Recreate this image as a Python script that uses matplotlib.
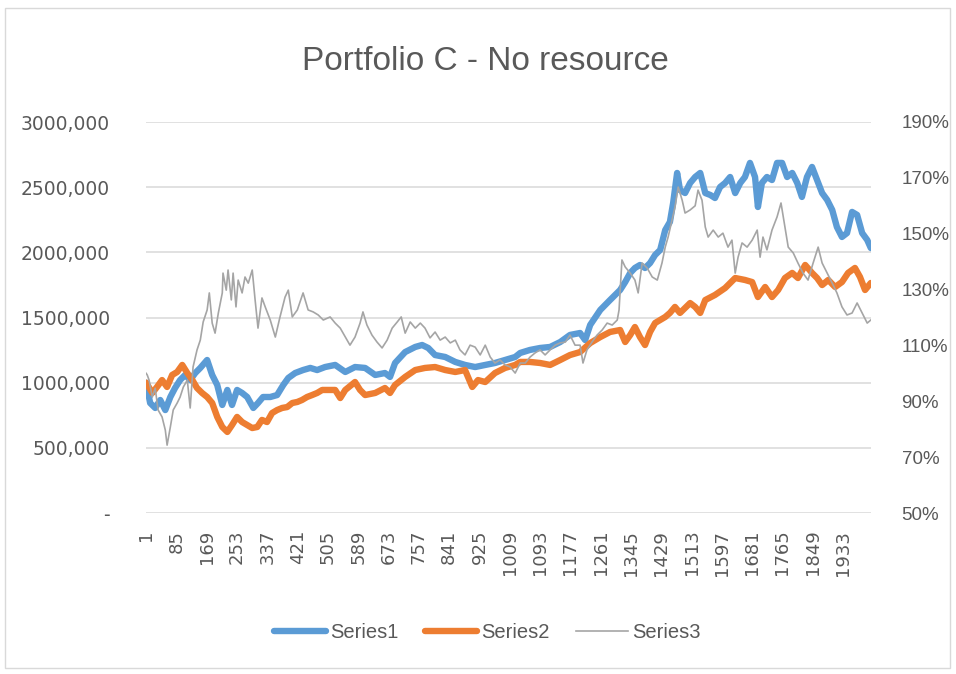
import matplotlib
matplotlib.use("Agg")
import matplotlib.pyplot as plt
from matplotlib.lines import Line2D
from matplotlib.patches import Rectangle

# --- data (day index, value) ---
n_days = 2010

s1_days = [1, 12, 26, 40, 54, 68, 81, 95, 109, 123, 137, 151, 170, 184, 198, 212, 226, 239, 253, 267,
           281, 298, 311, 325, 345, 364, 381, 395, 414, 436, 456, 475, 497, 525, 553, 580, 608, 636, 663, 677,
           691, 719, 747, 766, 783, 802, 830, 858, 885, 913, 941, 968, 996, 1024, 1038, 1065, 1093, 1121, 1149, 1176,
           1204, 1218, 1232, 1260, 1287, 1315, 1329, 1343, 1356, 1370, 1384, 1398, 1412, 1426, 1440, 1453, 1462, 1473, 1481, 1495,
           1509, 1523, 1537, 1551, 1565, 1578, 1592, 1606, 1620, 1634, 1648, 1661, 1675, 1689, 1697, 1708, 1722, 1736, 1750, 1764,
           1778, 1792, 1806, 1819, 1833, 1847, 1861, 1875, 1889, 1903, 1916, 1930, 1944, 1958, 1972, 1986, 2000, 2010]
s1_vals = [1000000, 844000, 806000, 867000, 790000, 890000, 959000, 1020000, 1059000, 1020000, 1074000, 1113000, 1174000, 1059000, 982000, 829000, 944000, 829000, 944000, 921000,
           890000, 806000, 844000, 890000, 890000, 905000, 982000, 1036000, 1074000, 1097000, 1113000, 1097000, 1120000, 1136000, 1082000, 1120000, 1113000, 1059000, 1074000, 1044000,
           1151000, 1235000, 1274000, 1289000, 1266000, 1212000, 1197000, 1159000, 1136000, 1120000, 1136000, 1151000, 1174000, 1197000, 1228000, 1251000, 1266000, 1274000, 1312000, 1366000,
           1381000, 1327000, 1443000, 1558000, 1634000, 1711000, 1772000, 1842000, 1880000, 1903000, 1880000, 1918000, 1980000, 2018000, 2171000, 2233000, 2379000, 2609000, 2478000, 2455000,
           2532000, 2578000, 2609000, 2455000, 2440000, 2417000, 2501000, 2532000, 2578000, 2455000, 2532000, 2578000, 2686000, 2578000, 2348000, 2532000, 2578000, 2555000, 2686000, 2686000,
           2578000, 2609000, 2532000, 2425000, 2578000, 2655000, 2555000, 2455000, 2402000, 2325000, 2194000, 2118000, 2148000, 2310000, 2287000, 2148000, 2095000, 2033000]

s2_days = [1, 18, 31, 45, 59, 73, 87, 101, 115, 129, 142, 156, 170, 184, 198, 212, 226, 239, 253, 267,
           281, 295, 309, 322, 336, 350, 364, 378, 392, 406, 420, 433, 447, 461, 475, 489, 503, 525, 539, 553,
           580, 594, 608, 636, 663, 677, 691, 719, 747, 774, 802, 830, 858, 885, 905, 921, 941, 968, 996, 1024,
           1038, 1065, 1093, 1121, 1149, 1176, 1204, 1232, 1260, 1287, 1315, 1329, 1343, 1356, 1370, 1384, 1398, 1412, 1426, 1440,
           1453, 1467, 1481, 1495, 1509, 1523, 1537, 1551, 1578, 1606, 1634, 1661, 1681, 1697, 1717, 1736, 1753, 1772, 1792, 1808,
           1828, 1847, 1861, 1875, 1892, 1911, 1930, 1947, 1966, 1980, 1994, 2010]
s2_vals = [1000000, 921000, 967000, 1020000, 967000, 1059000, 1082000, 1136000, 1074000, 1020000, 959000, 921000, 890000, 844000, 737000, 660000, 622000, 675000, 737000, 698000,
           675000, 652000, 660000, 714000, 698000, 767000, 790000, 806000, 813000, 844000, 852000, 867000, 890000, 905000, 921000, 944000, 944000, 944000, 882000, 944000,
           1005000, 944000, 905000, 921000, 959000, 921000, 982000, 1044000, 1097000, 1113000, 1120000, 1097000, 1082000, 1097000, 967000, 1020000, 1005000, 1074000, 1113000, 1136000,
           1159000, 1159000, 1151000, 1136000, 1174000, 1212000, 1235000, 1304000, 1350000, 1389000, 1404000, 1312000, 1366000, 1427000, 1350000, 1289000, 1389000, 1458000, 1481000, 1504000,
           1535000, 1581000, 1535000, 1573000, 1611000, 1581000, 1535000, 1634000, 1673000, 1726000, 1803000, 1788000, 1772000, 1657000, 1734000, 1657000, 1711000, 1803000, 1842000, 1803000,
           1903000, 1842000, 1803000, 1749000, 1788000, 1734000, 1772000, 1842000, 1880000, 1811000, 1711000, 1765000]

s3_days = [1, 4, 9, 18, 26, 34, 45, 54, 59, 68, 76, 87, 95, 104, 115, 123, 131, 142, 151, 159,
           170, 176, 184, 192, 201, 212, 214, 223, 228, 237, 242, 250, 256, 267, 275, 284, 295, 303, 311, 322,
           331, 345, 359, 372, 386, 395, 406, 420, 436, 450, 464, 478, 492, 511, 525, 539, 553, 566, 580, 594,
           602, 613, 627, 641, 655, 669, 683, 697, 708, 719, 733, 747, 761, 774, 788, 802, 816, 830, 844, 858,
           871, 885, 899, 913, 927, 941, 955, 968, 982, 996, 1010, 1024, 1038, 1052, 1065, 1079, 1093, 1107, 1121, 1135,
           1149, 1163, 1176, 1190, 1204, 1212, 1223, 1237, 1251, 1265, 1279, 1293, 1307, 1312, 1320, 1329, 1343, 1356, 1365, 1376,
           1390, 1404, 1418, 1431, 1440, 1448, 1459, 1467, 1476, 1487, 1495, 1509, 1523, 1531, 1542, 1551, 1559, 1573, 1587, 1600,
           1614, 1625, 1634, 1642, 1653, 1667, 1681, 1695, 1703, 1711, 1722, 1736, 1750, 1761, 1772, 1781, 1795, 1808, 1822, 1836,
           1850, 1864, 1875, 1889, 1903, 1916, 1930, 1944, 1958, 1972, 1986, 2000, 2010]
s3_pct = [100.0, 99.4, 97.6, 91.5, 94.7, 86.9, 84.4, 79.7, 74.3, 80.8, 86.9, 89.4, 91.5, 95.1, 97.6, 87.6, 102.3, 108.4, 111.9, 118.4,
          122.7, 128.8, 118.0, 114.4, 121.6, 128.8, 135.9, 129.8, 137.0, 126.3, 135.9, 123.8, 133.4, 128.8, 134.5, 132.3, 137.0, 126.3, 116.2, 127.0,
          123.8, 119.1, 113.0, 120.2, 127.3, 129.8, 120.2, 122.7, 128.8, 122.7, 122.0, 120.9, 119.1, 120.2, 118.0, 116.2, 113.0, 110.1, 113.0, 118.0,
          122.0, 117.3, 113.7, 111.2, 109.1, 111.9, 116.2, 118.4, 120.2, 114.4, 118.4, 116.2, 118.0, 116.2, 112.7, 114.8, 111.9, 113.0, 110.9, 111.9,
          108.4, 106.6, 110.1, 109.4, 106.6, 110.1, 105.8, 103.7, 104.8, 103.0, 102.3, 100.1, 103.7, 103.7, 105.8, 107.3, 108.4, 106.6, 108.4, 110.1,
          110.9, 111.2, 113.7, 110.1, 110.1, 103.7, 108.4, 111.2, 113.7, 115.5, 118.0, 117.3, 119.1, 122.7, 140.6, 138.1, 135.9, 133.4, 128.8, 139.5,
          137.7, 134.5, 133.4, 139.5, 145.2, 148.8, 154.9, 159.5, 166.7, 162.0, 157.4, 158.5, 160.0, 165.6, 162.0, 152.4, 148.8, 151.3, 148.8, 150.2,
          145.2, 147.7, 135.9, 141.6, 146.7, 145.2, 147.7, 151.3, 141.6, 148.8, 144.2, 151.3, 156.0, 161.0, 152.4, 145.2, 143.1, 139.5, 135.9, 133.4,
          139.5, 145.2, 139.5, 135.9, 132.3, 128.8, 123.8, 120.9, 121.6, 125.2, 121.6, 118.0, 119.1]

x_ticks = list(range(1, n_days, 84))
left_ticks = [0, 500000, 1000000, 1500000, 2000000, 2500000, 3000000]
left_labels = ["-", "500,000", "1000,000", "1500,000", "2000,000", "2500,000", "3000,000"]
right_ticks = [50, 70, 90, 110, 130, 150, 170, 190]

blue = "#5B9BD5"
orange = "#ED7D31"
gray = "#A5A5A5"
txt = "#595959"
slim = ["Liberation Sans", "DejaVu Sans"]

fig = plt.figure(figsize=(9.56, 6.74), dpi=100)
ax = fig.add_axes([146 / 956, 1 - 513 / 674, 725 / 956, 391 / 674])
ax2 = ax.twinx()

ax.plot(s1_days, s1_vals, color=blue, lw=4.6, solid_joinstyle="round", solid_capstyle="round")
ax.plot(s2_days, s2_vals, color=orange, lw=4.6, solid_joinstyle="round", solid_capstyle="round")
ax2.plot(s3_days, s3_pct, color=gray, lw=1.2)

ax.set_xlim(0.5, n_days + 0.5)
ax.set_ylim(0, 3000000)
ax2.set_ylim(50, 190)

ax.set_yticks(left_ticks)
ax.set_yticklabels(left_labels, fontsize=13.5, color=txt)
ax.grid(axis="y", color="#D9D9D9", lw=1.1)
ax.set_axisbelow(True)
ax.set_xticks(x_ticks)
ax.set_xticklabels([str(t) for t in x_ticks], rotation=90, fontsize=13, color=txt)
ax.tick_params(axis="both", length=0)
ax.tick_params(axis="y", pad=26)
ax.tick_params(axis="x", pad=12)

ax2.set_yticks(right_ticks)
ax2.set_yticklabels([f"{t}%" for t in right_ticks], fontsize=13.5, color=txt, family=slim)
ax2.tick_params(axis="y", length=0, pad=22)

for a in (ax, ax2):
    for s in a.spines.values():
        s.set_visible(False)

fig.text(485 / 956, 1 - 62 / 674, "Portfolio C - No resource", ha="center", va="center",
         fontsize=24, color=txt, family=slim)

handles = [Line2D([], [], color=blue, lw=4.6, solid_capstyle="round"),
           Line2D([], [], color=orange, lw=4.6, solid_capstyle="round"),
           Line2D([], [], color=gray, lw=1.2)]
fig.legend(handles, ["Series1", "Series2", "Series3"], loc="center", bbox_to_anchor=(487 / 956, 1 - 633 / 674),
           ncol=3, frameon=False, handlelength=2.6, handletextpad=0.2, columnspacing=1.3,
           prop={"family": slim, "size": 14.5}, labelcolor=txt)

fig.patches.append(Rectangle((5 / 956, 6 / 674), 945 / 956, 660 / 674, transform=fig.transFigure,
                             fill=False, ec="#D9D9D9", lw=1))

fig.savefig("out.png", dpi=100)
